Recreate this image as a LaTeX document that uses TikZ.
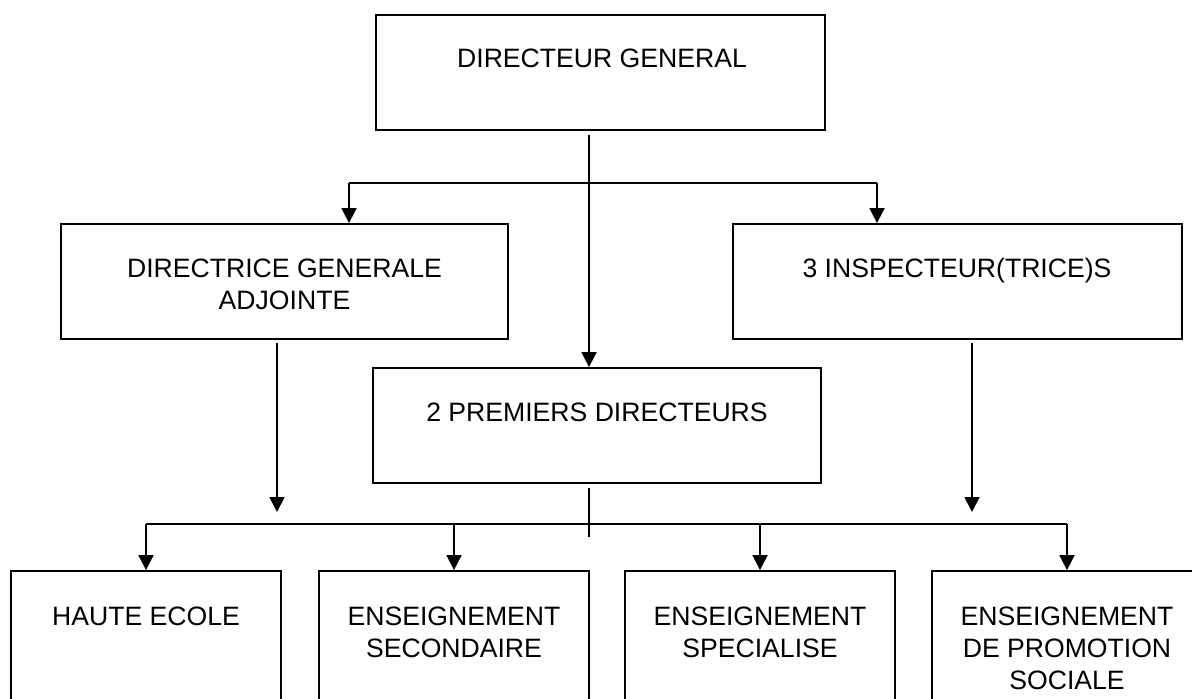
\documentclass[tikz,border=0pt]{standalone}
\usepackage{fontspec}
\setmainfont{Liberation Sans}
\usepackage{tikz}
\usetikzlibrary{arrows.meta}

\begin{document}
\begin{tikzpicture}[x=0.5pt,y=-0.5pt,
    box/.style={draw, line width=0.9pt, inner sep=0pt},
    upbox/.style={box, minimum height=57.5pt},
    lowbox/.style={box, minimum width=135pt, minimum height=74.5pt},
    txt/.style={anchor=base, align=center, inner sep=0pt,
                font=\fontsize{13.3}{16}\selectfont},
    arr/.style={line width=0.9pt, -{Triangle[length=7.5pt,width=7.5pt]}},
    lin/.style={line width=0.9pt}]

    \useasboundingbox (0,0) rectangle (1192,699);
    \clip (0,0) rectangle (1192,699);

    \node[upbox, minimum width=224.5pt] (dg) at (600.5,72.5) {};
    \node[upbox, minimum width=223.5pt] (dga) at (284.5,281.5) {};
    \node[upbox, minimum width=224.5pt] (ins) at (957.5,281.5) {};
    \node[upbox, minimum width=224pt] (pd) at (597,425.5) {};
    \node[lowbox] (hau) at (146,645.5) {};
    \node[lowbox] (sec) at (454,645.5) {};
    \node[lowbox] (spe) at (760,645.5) {};
    \node[lowbox] (pro) at (1067,645.5) {};

    \node[txt] (dgt) at (602,68) {DIRECTEUR GENERAL};
    \node[txt] (dgat) at (284.5,309.5) {DIRECTRICE GENERALE\\ADJOINTE};
    \node[txt] (inst) at (957,278) {3 INSPECTEUR(TRICE)S};
    \node[txt] (pdt) at (597,422) {2 PREMIERS DIRECTEURS};
    \node[txt] (haut) at (146,625) {HAUTE ECOLE};
    \node[txt] (sect) at (454,657) {ENSEIGNEMENT\\SECONDAIRE};
    \node[txt] (spet) at (760,657) {ENSEIGNEMENT\\SPECIALISE};
    \node[txt] (prot) at (1067,689) {ENSEIGNEMENT\\DE PROMOTION\\SOCIALE};

    \coordinate (dgout) at (589,135);
    \coordinate (lx) at (349,183);
    \coordinate (rx) at (877,183);
    \coordinate (dgaout) at (277,343);
    \coordinate (dgaend) at (277,512);
    \coordinate (insout) at (972,343);
    \coordinate (insend) at (972,512);
    \coordinate (pdout) at (589,488);
    \coordinate (pdend) at (589,537);
    \coordinate (botbus) at (589,524);

    \draw[arr] (dgout) -- (dgout |- pd.north);
    \draw[lin] (lx) -- (rx);
    \draw[arr] (lx) -- (lx |- dga.north);
    \draw[arr] (rx) -- (rx |- ins.north);

    \draw[arr] (dgaout) -- (dgaend);
    \draw[arr] (insout) -- (insend);
    \draw[lin] (pdout) -- (pdend);

    \draw[lin] (hau.north |- botbus) -- (pro.north |- botbus);
    \foreach \b in {hau,sec,spe,pro}
        \draw[arr] (\b.north |- botbus) -- (\b.north);

\end{tikzpicture}
\end{document}
